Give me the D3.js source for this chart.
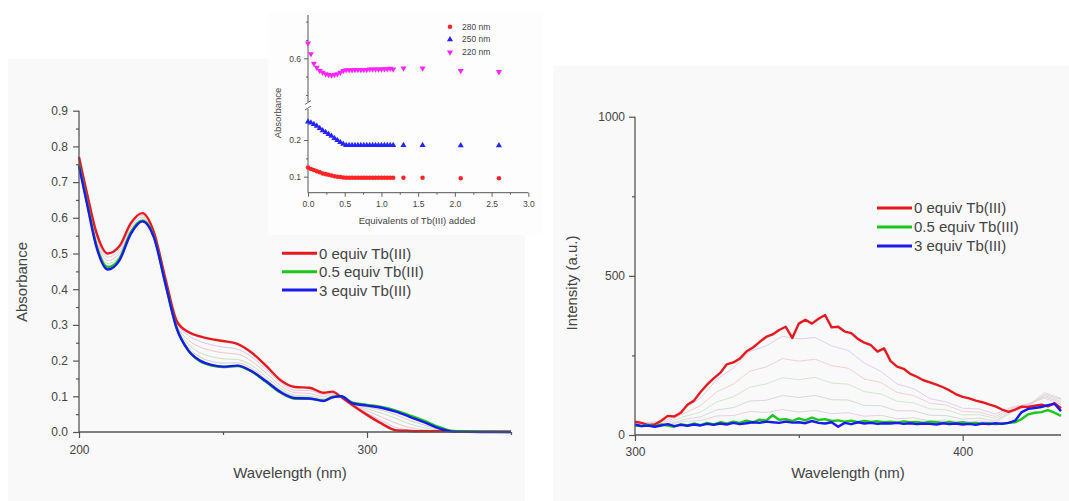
<!DOCTYPE html>
<html>
<head>
<meta charset="utf-8">
<script src="https://d3js.org/d3.v7.min.js"></script>
<style>
	body { margin: 0; background: #fff; }
	svg { display: block; font-family: Arial, "Liberation Sans", sans-serif; }
</style>
</head>
<body>
<div class="container"></div>
<script>
// absorbance spectra (left panel)
var absWavelengths = [200,203,206,210,214,218,222,226,230,234,238,242,246,250,255,260,265,270,275,280,285,288,291,295,300,305,310,315,320,325,330,340,350];
var absRed = [0.77,0.66,0.56,0.50,0.52,0.585,0.613,0.56,0.43,0.31,0.28,0.268,0.26,0.255,0.247,0.222,0.185,0.145,0.126,0.124,0.11,0.113,0.098,0.075,0.048,0.024,0.005,0.003,0.002,0.002,0.002,0.001,0.001];
var absGreen = [0.75,0.635,0.525,0.462,0.485,0.56,0.592,0.548,0.416,0.29,0.228,0.198,0.186,0.182,0.185,0.169,0.14,0.11,0.093,0.093,0.088,0.098,0.1,0.082,0.076,0.07,0.06,0.046,0.031,0.014,0.003,0.001,0];
var absBlue = [0.745,0.63,0.52,0.455,0.48,0.555,0.59,0.545,0.415,0.288,0.228,0.2,0.188,0.183,0.186,0.17,0.142,0.112,0.095,0.094,0.087,0.097,0.1,0.08,0.074,0.068,0.057,0.042,0.027,0.01,0.001,0,0];
var absMid1 = [0.765,0.655,0.55,0.49,0.51,0.58,0.607,0.556,0.428,0.305,0.27,0.254,0.244,0.238,0.232,0.21,0.175,0.138,0.117,0.116,0.105,0.109,0.099,0.077,0.053,0.032,0.013,0.005,0.003,0.002,0.002,0.001,0.001];
var absMid2 = [0.76,0.648,0.54,0.48,0.5,0.572,0.602,0.553,0.424,0.3,0.258,0.238,0.228,0.222,0.218,0.198,0.165,0.13,0.11,0.108,0.099,0.105,0.099,0.078,0.059,0.042,0.025,0.012,0.006,0.003,0.002,0.001,0.001];
var absMid3 = [0.755,0.642,0.532,0.472,0.492,0.565,0.597,0.55,0.42,0.296,0.246,0.222,0.211,0.205,0.203,0.186,0.155,0.122,0.103,0.101,0.093,0.101,0.1,0.079,0.065,0.053,0.038,0.022,0.012,0.005,0.002,0.001,0.001];
var absMid4 = [0.75,0.636,0.526,0.464,0.486,0.56,0.593,0.547,0.417,0.292,0.236,0.21,0.198,0.193,0.194,0.178,0.148,0.117,0.099,0.097,0.09,0.099,0.1,0.08,0.07,0.061,0.048,0.032,0.019,0.007,0.001,0,0];

// inset: absorbance vs equivalents
var equivalents = [0,0.04,0.08,0.12,0.16,0.2,0.24,0.28,0.32,0.36,0.4,0.44,0.48,0.52,0.56,0.6,0.64,0.68,0.72,0.76,0.8,0.84,0.88,0.92,0.96,1.0,1.04,1.08,1.12,1.16,1.3,1.56,2.08,2.6];
var abs280 = [0.125,0.121,0.118,0.115,0.112,0.109,0.107,0.105,0.103,0.101,0.1,0.099,0.098,0.097,0.097,0.097,0.097,0.097,0.097,0.097,0.097,0.097,0.097,0.097,0.097,0.097,0.097,0.097,0.097,0.097,0.097,0.097,0.096,0.096];
var abs250 = [0.25,0.247,0.243,0.238,0.232,0.226,0.221,0.216,0.211,0.205,0.199,0.194,0.189,0.186,0.186,0.186,0.186,0.186,0.186,0.186,0.186,0.186,0.186,0.186,0.186,0.186,0.186,0.186,0.186,0.186,0.186,0.186,0.185,0.185];
var abs220 = [0.641,0.612,0.586,0.575,0.566,0.561,0.557,0.555,0.554,0.555,0.557,0.561,0.566,0.568,0.568,0.568,0.569,0.569,0.569,0.569,0.569,0.57,0.57,0.57,0.57,0.57,0.571,0.571,0.572,0.57,0.573,0.573,0.566,0.563];
var insetNames = ["280 nm", "250 nm", "220 nm"];

// emission spectra (right panel)
var emWavelengths = d3.range(300, 431, 2);
var emRed = [42,38,31,33,45,60,58,70,95,108,135,158,178,195,222,228,240,262,275,292,308,316,330,340,305,350,362,350,365,377,338,340,325,320,302,290,282,262,272,232,215,208,192,183,172,165,158,150,140,128,120,115,108,103,96,90,80,73,80,89,88,92,95,90,100,84];
var emGreen = [30,28,32,27,33,30,26,34,30,36,31,38,33,40,36,42,38,45,40,48,45,62,48,50,44,52,46,55,47,50,44,46,42,45,40,44,41,43,40,42,39,43,40,41,38,42,40,38,41,37,40,36,38,35,37,34,36,38,40,50,65,70,72,78,70,60];
var emBlue = [33,28,30,26,30,34,28,32,29,33,30,35,32,36,33,38,34,37,40,38,42,40,38,42,39,40,37,44,38,36,40,26,38,34,40,36,38,35,37,36,38,35,37,34,36,35,33,37,34,36,33,35,32,36,34,37,35,38,45,72,82,85,88,94,98,75];
var emMidWavelengths = [300,305,310,315,320,325,330,335,340,345,350,355,360,365,370,375,380,385,390,395,400,405,410,415,420,425,430];
var emMid1 = [35,40,48,84,116,175,210,262,280,310,302,306,280,266,226,200,160,146,114,104,84,82,66,88,98,116,96];
var emMid2 = [33,37,43,68,92,136,160,200,214,240,232,238,218,210,176,165,134,124,100,94,74,72,58,84,96,120,102];
var emMid3 = [32,36,38,58,72,104,120,150,160,180,174,181,163,160,136,129,106,101,82,79,63,64,52,78,92,124,106];
var emMid4 = [30,34,34,49,57,79,86,107,109,124,118,124,111,110,93,92,76,76,62,61,50,53,45,75,90,128,112];
var emMid5 = [30,33,32,43,45,60,61,74,71,80,72,77,67,70,59,62,51,54,44,47,40,44,40,71,93,133,115];

var seriesNames = ["0 equiv Tb(III)", "0.5 equiv Tb(III)", "3 equiv Tb(III)"];
var seriesColors = ["#e8191e", "#19c819", "#1a1aee"];
var fadedColors = ["#d8c6ee", "#efc4c8", "#c4e2c4", "#cfcfd6", "#e2c4e2"];

var axisColor = "#555";
var textColor = "#444";

var svg = d3.select(".container").append("svg")
	.attr("width", 1069)
	.attr("height", 501);

// panel backgrounds
svg.append("rect").attr("x", 8).attr("y", 59).attr("width", 517).attr("height", 442).attr("fill", "#f9f9f9");
svg.append("rect").attr("x", 553).attr("y", 66).attr("width", 516).attr("height", 435).attr("fill", "#f9f9f9");

function zip(xs, ys) {
	return xs.map(function(x, i) { return [x, ys[i]]; });
}

function drawTicks(g, axisFn, scale, major, minor, fmt, size, pad, fontSize, width) {
	g.append("g").call(axisFn(scale).tickValues(minor).tickSize(size / 2).tickSizeOuter(0).tickFormat(""))
		.call(function(s) { s.select(".domain").remove(); });
	g.append("g").call(axisFn(scale).tickValues(major).tickSize(size).tickSizeOuter(0).tickPadding(pad).tickFormat(fmt))
		.call(function(s) { s.select(".domain").remove(); });
	g.selectAll("line").attr("stroke", axisColor).attr("stroke-width", width || 1.2);
	g.selectAll("text").attr("fill", textColor).style("font-size", fontSize + "px").attr("font-family", null);
}

function drawLegend(x, y, step) {
	seriesNames.forEach(function(name, i) {
		svg.append("line")
			.attr("x1", x).attr("x2", x + 35)
			.attr("y1", y + i * step).attr("y2", y + i * step)
			.attr("stroke", seriesColors[i]).attr("stroke-width", 3);
		svg.append("text")
			.attr("x", x + 37).attr("y", y + i * step)
			.attr("dy", "0.36em")
			.attr("fill", textColor)
			.style("font-size", "15px")
			.text(name);
	});
}

// ---------- left panel: absorbance ----------
var ax = d3.scaleLinear().domain([200, 350]).range([79, 511]);
var ay = d3.scaleLinear().domain([0, 0.9]).range([432, 110.7]);

var absLine = d3.line()
	.x(function(d) { return ax(d[0]); })
	.y(function(d) { return ay(d[1]); })
	.curve(d3.curveMonotoneX);

[absMid1, absMid2, absMid3, absMid4].forEach(function(s, i) {
	svg.append("path")
		.attr("d", absLine(zip(absWavelengths, s)))
		.attr("fill", "none")
		.attr("stroke", fadedColors[i])
		.attr("stroke-width", 1);
});
[absRed, absGreen, absBlue].forEach(function(s, i) {
	svg.append("path")
		.attr("d", absLine(zip(absWavelengths, s)))
		.attr("fill", "none")
		.attr("stroke", seriesColors[i])
		.attr("stroke-width", 2.4)
		.attr("stroke-linejoin", "round");
});

svg.append("line").attr("x1", 79).attr("x2", 79).attr("y1", ay(0.9)).attr("y2", ay(0)).attr("stroke", axisColor).attr("stroke-width", 1.3);
svg.append("line").attr("x1", 79).attr("x2", 511).attr("y1", ay(0)).attr("y2", ay(0)).attr("stroke", axisColor).attr("stroke-width", 1.3);

drawTicks(svg.append("g").attr("transform", "translate(79,0)"), d3.axisLeft, ay,
	[0, 0.1, 0.2, 0.3, 0.4, 0.5, 0.6, 0.7, 0.8, 0.9], [0.05, 0.15, 0.25, 0.35, 0.45, 0.55, 0.65, 0.75, 0.85],
	d3.format(".1f"), 6, 5, 12);
drawTicks(svg.append("g").attr("transform", "translate(0," + ay(0) + ")"), d3.axisBottom, ax,
	[200, 300], [250, 350], d3.format("d"), 6, 7, 12);

svg.append("text")
	.attr("transform", "translate(27,282) rotate(-90)")
	.attr("text-anchor", "middle")
	.attr("fill", textColor)
	.style("font-size", "15px")
	.text("Absorbance");
svg.append("text")
	.attr("x", 290).attr("y", 478)
	.attr("text-anchor", "middle")
	.attr("fill", textColor)
	.style("font-size", "15px")
	.text("Wavelength (nm)");

drawLegend(282, 253.3, 18.4);

// ---------- inset ----------
svg.append("rect").attr("x", 268).attr("y", 12).attr("width", 275).attr("height", 223).attr("fill", "#fdfdfd");

var ix = d3.scaleLinear().domain([0, 3]).range([308, 528.3]);
var iyLow = d3.scaleLinear().domain([0.1, 0.2]).range([176.7, 140]);
var iyHigh = d3.scaleLinear().domain([0.6, 0.7]).range([58.3, 21.6]);

svg.append("line").attr("x1", 308).attr("x2", 308).attr("y1", 15).attr("y2", 192.7).attr("stroke", axisColor).attr("stroke-width", 1);
svg.append("line").attr("x1", 308).attr("x2", 528.3).attr("y1", 192.7).attr("y2", 192.7).attr("stroke", axisColor).attr("stroke-width", 1);

drawTicks(svg.append("g").attr("transform", "translate(308,0)"), d3.axisLeft, iyLow,
	[0.1, 0.2], [0.15, 0.25], d3.format(".1f"), 4, 3, 8.5, 0.9);
drawTicks(svg.append("g").attr("transform", "translate(308,0)"), d3.axisLeft, iyHigh,
	[0.6], [0.5, 0.55, 0.65, 0.7], d3.format(".1f"), 4, 3, 8.5, 0.9);
drawTicks(svg.append("g").attr("transform", "translate(0,192.7)"), d3.axisBottom, ix,
	[0, 0.5, 1, 1.5, 2, 2.5, 3], [0.25, 0.75, 1.25, 1.75, 2.25, 2.75], d3.format(".1f"), 4, 4, 8.5, 0.9);

// axis break
svg.append("rect").attr("x", 304).attr("y", 102).attr("width", 8).attr("height", 7).attr("fill", "#fdfdfd");
svg.append("line").attr("x1", 305).attr("y1", 104.5).attr("x2", 311).attr("y2", 100.5).attr("stroke", axisColor).attr("stroke-width", 0.9);
svg.append("line").attr("x1", 305).attr("y1", 110).attr("x2", 311).attr("y2", 106).attr("stroke", axisColor).attr("stroke-width", 0.9);

var insetSets = [
	{ values: abs280, scale: iyLow, color: "#ff2424", symbol: d3.symbolCircle, size: 16, rotate: 0 },
	{ values: abs250, scale: iyLow, color: "#2424ff", symbol: d3.symbolTriangle, size: 16, rotate: 0 },
	{ values: abs220, scale: iyHigh, color: "#ff24ff", symbol: d3.symbolTriangle, size: 16, rotate: 180 }
];
insetSets.forEach(function(set) {
	svg.append("g").selectAll("path")
		.data(zip(equivalents, set.values))
		.enter().append("path")
		.attr("d", d3.symbol().type(set.symbol).size(set.size))
		.attr("transform", function(d) { return "translate(" + ix(d[0]) + "," + set.scale(d[1]) + ") rotate(" + set.rotate + ")"; })
		.attr("fill", set.color);
});

insetSets.forEach(function(set, i) {
	var y = 26.7 + i * 12.8;
	svg.append("path")
		.attr("d", d3.symbol().type(set.symbol).size(set.size))
		.attr("transform", "translate(450," + y + ") rotate(" + set.rotate + ")")
		.attr("fill", set.color);
	svg.append("text")
		.attr("x", 462).attr("y", y)
		.attr("dy", "0.35em")
		.attr("fill", textColor)
		.style("font-size", "8.5px")
		.text(insetNames[i]);
});

svg.append("text")
	.attr("transform", "translate(281,113) rotate(-90)")
	.attr("text-anchor", "middle")
	.attr("fill", textColor)
	.style("font-size", "9.5px")
	.text("Absorbance");
svg.append("text")
	.attr("x", 417).attr("y", 224)
	.attr("text-anchor", "middle")
	.attr("fill", textColor)
	.style("font-size", "9.5px")
	.text("Equivalents of Tb(III) added");

// ---------- right panel: emission ----------
var ex = d3.scaleLinear().domain([300, 430]).range([635, 1061]);
var ey = d3.scaleLinear().domain([0, 1000]).range([435, 116.7]);

var emLine = d3.line()
	.x(function(d) { return ex(d[0]); })
	.y(function(d) { return ey(d[1]); });

[emMid1, emMid2, emMid3, emMid4, emMid5].forEach(function(s, i) {
	svg.append("path")
		.attr("d", emLine(zip(emMidWavelengths, s)))
		.attr("fill", "none")
		.attr("stroke", fadedColors[i])
		.attr("stroke-opacity", 0.8)
		.attr("stroke-width", 1);
});
[emRed, emGreen, emBlue].forEach(function(s, i) {
	svg.append("path")
		.attr("d", emLine(zip(emWavelengths, s)))
		.attr("fill", "none")
		.attr("stroke", seriesColors[i])
		.attr("stroke-width", 2.4)
		.attr("stroke-linejoin", "round");
});

svg.append("line").attr("x1", 635).attr("x2", 635).attr("y1", ey(1000)).attr("y2", ey(0)).attr("stroke", axisColor).attr("stroke-width", 1.3);
svg.append("line").attr("x1", 635).attr("x2", 1061).attr("y1", ey(0)).attr("y2", ey(0)).attr("stroke", axisColor).attr("stroke-width", 1.3);

drawTicks(svg.append("g").attr("transform", "translate(635,0)"), d3.axisLeft, ey,
	[0, 500, 1000], [250, 750], d3.format("d"), 6, 4, 12);
drawTicks(svg.append("g").attr("transform", "translate(0," + ey(0) + ")"), d3.axisBottom, ex,
	[300, 400], [350], d3.format("d"), 6, 6, 12);

svg.append("text")
	.attr("transform", "translate(577,283) rotate(-90)")
	.attr("text-anchor", "middle")
	.attr("fill", textColor)
	.style("font-size", "15px")
	.text("Intensity (a.u.)");
svg.append("text")
	.attr("x", 848).attr("y", 478)
	.attr("text-anchor", "middle")
	.attr("fill", textColor)
	.style("font-size", "15px")
	.text("Wavelength (nm)");

drawLegend(877, 208, 19);
</script>
</body>
</html>
